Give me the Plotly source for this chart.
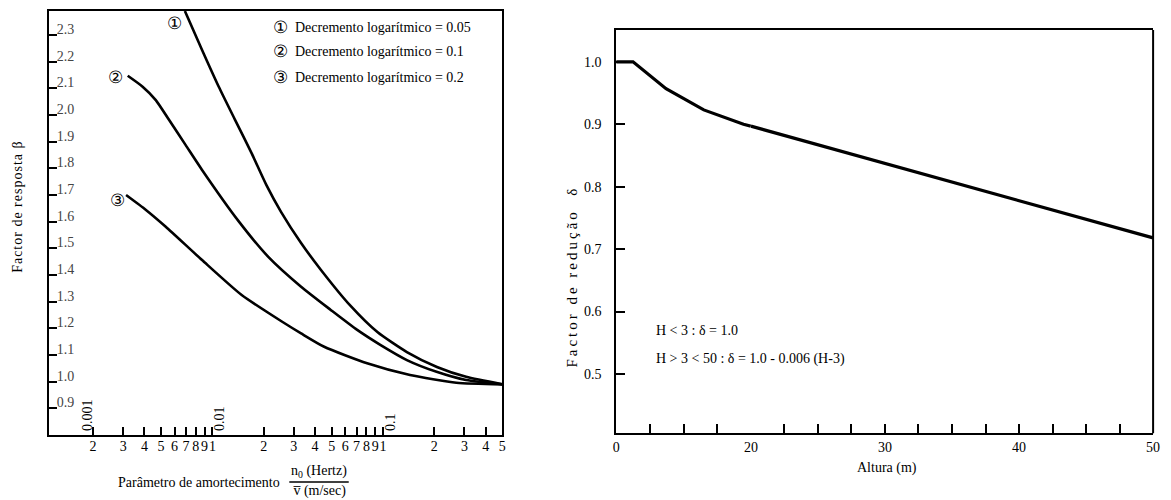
import math
import plotly.graph_objects as go

W, H = 1171, 500
def px(x):
    return x / W
def py(y):
    return 1 - y / H

FONT = "'Liberation Serif', 'Times New Roman', Tinos, 'DejaVu Serif', serif"

# ---------------- Left chart data ----------------
damping_param_1 = [0.0069, 0.0087, 0.0109, 0.0136, 0.0170, 0.0207, 0.0253,
                   0.0331, 0.0433, 0.0646, 0.0927, 0.138, 0.207, 0.307, 0.5]
beta_1 = [2.39, 2.244, 2.106, 1.981, 1.856, 1.738, 1.636,
          1.52, 1.419, 1.284, 1.186, 1.111, 1.055, 1.018, 0.99]

damping_param_2 = [0.00319, 0.0039, 0.00466, 0.00558, 0.00696, 0.0087, 0.0142,
                   0.0212, 0.0331, 0.0494, 0.0706, 0.0964, 0.138, 0.206, 0.307, 0.5]
beta_2 = [2.147, 2.106, 2.056, 1.981, 1.888, 1.794, 1.603,
          1.469, 1.356, 1.269, 1.194, 1.138, 1.081, 1.037, 1.006, 0.99]

damping_param_3 = [0.00312, 0.00408, 0.00533, 0.0087, 0.01485, 0.0265, 0.0331,
                   0.0452, 0.0807, 0.144, 0.269, 0.5]
beta_3 = [1.70, 1.644, 1.581, 1.456, 1.325, 1.219, 1.181,
          1.131, 1.069, 1.025, 0.996, 0.99]

curve_markers = ["①", "②", "③"]
legend_texts = ["Decremento logarítmico = 0.05",
                "Decremento logarítmico = 0.1",
                "Decremento logarítmico = 0.2"]

left_x_tickvals = [0.002, 0.003, 0.004, 0.005, 0.006, 0.007, 0.008, 0.009,
                   0.01, 0.02, 0.03, 0.04, 0.05, 0.06, 0.07, 0.08, 0.09,
                   0.1, 0.2, 0.3, 0.4, 0.5]
left_x_ticktext = ["2", "3", "4", "5", "6", "7", "8", "9",
                   "1", "2", "3", "4", "5", "6", "7", "8", "9",
                   "1", "2", "3", "4", "5"]
decade_labels = ["0.001", "0.01", "0.1"]
decade_label_pos = [0.002, 0.01, 0.1]
left_y_tickvals = [0.8, 0.9, 1.0, 1.1, 1.2, 1.3, 1.4, 1.5, 1.6, 1.7, 1.8, 1.9,
                   2.0, 2.1, 2.2, 2.3]
left_y_ticktext = ["0.8", "0.9", "1.0", "1.1", "1.2", "1.3", "1.4", "1.5", "1.6",
                   "1.7", "1.8", "1.9", "2.0", "2.1", "2.2", "2.3"]

# ---------------- Right chart data ----------------
height_m = [0, 2.5, 7.4, 13.0, 18.9, 20, 50]
reduction = [1.0, 1.0, 0.957, 0.923, 0.900, 0.897, 0.718]

right_y_tickvals = [0.5, 0.6, 0.7, 0.8, 0.9, 1.0]
right_y_ticktext = ["0.5", "0.6", "0.7", "0.8", "0.9", "1.0"]
right_x_low_tickvals = [0, 20]
right_x_low_ticktext = ["0", "20"]
right_x_high_tickvals = [30, 40, 50]
right_x_high_ticktext = ["30", "40", "50"]

fig = go.Figure()

for xs, ys in [(damping_param_1, beta_1), (damping_param_2, beta_2), (damping_param_3, beta_3)]:
    fig.add_trace(go.Scatter(x=xs, y=ys, mode="lines", xaxis="x", yaxis="y",
                             line=dict(color="black", width=2.6, shape="spline", smoothing=0.6),
                             showlegend=False, hoverinfo="skip"))

low = [(h, d) for h, d in zip(height_m, reduction) if h <= 20]
high = [(h, d) for h, d in zip(height_m, reduction) if h >= 20]
fig.add_trace(go.Scatter(x=[p[0] for p in low], y=[p[1] for p in low], mode="lines",
                         xaxis="x2", yaxis="y2", line=dict(color="black", width=3.2),
                         showlegend=False, hoverinfo="skip"))
fig.add_trace(go.Scatter(x=[p[0] for p in high], y=[p[1] for p in high], mode="lines",
                         xaxis="x3", yaxis="y2", line=dict(color="black", width=3.2),
                         showlegend=False, hoverinfo="skip"))

axis_common = dict(showline=True, linecolor="black", linewidth=2, showgrid=False,
                   zeroline=False, ticks="inside", tickcolor="black", tickwidth=2,
                   fixedrange=True, tickangle=0)
minor_common = dict(ticks="inside", ticklen=9, tickwidth=2, tickcolor="black", showgrid=False)

fig.update_layout(
    width=W, height=H, margin=dict(l=0, r=0, t=0, b=0),
    paper_bgcolor="white", plot_bgcolor="white",
    font=dict(family=FONT, color="black", size=13),
    xaxis=dict(domain=[px(45), px(503)], type="log", range=[-2.96, -0.301], anchor="y",
               tickvals=left_x_tickvals, ticktext=left_x_ticktext, ticklen=8, mirror=True,
               ticklabelstandoff=-3,
               tickfont=dict(size=14, family=FONT), **axis_common),
    yaxis=dict(domain=[py(435), py(11)], range=[0.8, 2.39], anchor="x",
               tickvals=left_y_tickvals, ticktext=left_y_ticktext, ticklen=8, mirror=True,
               ticklabelposition="inside", ticklabelshift=-6,
               tickfont=dict(size=14, family=FONT), **axis_common),
    xaxis2=dict(domain=[px(618), px(754)], range=[0, 20], anchor="y2",
                tickvals=right_x_low_tickvals, ticktext=right_x_low_ticktext, ticklen=9,
                minor=dict(tick0=0, dtick=5, **minor_common),
                mirror=True, tickfont=dict(size=14, family=FONT), **axis_common),
    xaxis3=dict(domain=[px(754), px(1160)], range=[20, 50], anchor="y2",
                tickvals=right_x_high_tickvals, ticktext=right_x_high_ticktext, ticklen=9,
                minor=dict(tick0=20, dtick=2.5, **minor_common),
                mirror=True, tickfont=dict(size=14, family=FONT), **axis_common),
    yaxis2=dict(domain=[py(433.3), py(30)], range=[0.405, 1.051], anchor="x2",
                tickvals=right_y_tickvals, ticktext=right_y_ticktext, ticklen=9,
                ticklabelstandoff=10, tickfont=dict(size=14, family=FONT), **axis_common),
)

# right frame border
fig.add_shape(type="line", xref="paper", yref="paper", x0=px(1160), x1=px(1160),
              y0=py(433.3), y1=py(30), line=dict(color="black", width=2))

def note(text, x, y, size=13, xanchor="center", yanchor="middle", **kw):
    return dict(text=text, xref="paper", yref="paper", x=px(x), y=py(y),
                xanchor=xanchor, yanchor=yanchor, showarrow=False,
                font=dict(size=size, family=FONT), **kw)

ann = []
for txt, (x, y) in zip(curve_markers, [(171.7, 23), (113, 77), (115, 200)]):
    ann.append(note(txt, x, y, size=17))
for i, (num, txt) in enumerate(zip(curve_markers, legend_texts)):
    ann.append(note(num, 279, 27 + 25 * i, size=17))
    ann.append(note(txt, 292, 27 + 25 * i, size=14, xanchor="left"))
for txt, pos, sh in zip(decade_labels, decade_label_pos, [-6, 7, 7]):
    ann.append(dict(text=txt, xref="x", yref="paper", x=math.log10(pos), y=py(433),
                    xanchor="center", yanchor="bottom", xshift=sh, textangle=-90,
                    showarrow=False, font=dict(size=14, family=FONT)))
ann.append(note('<span style="letter-spacing:1px">Factor de resposta β</span>', 14, 207,
                size=14, textangle=-90))
ann.append(note("Parâmetro de amortecimento", 281, 482, size=14, xanchor="right"))
ann.append(note("n<sub>0</sub> (Hertz)", 318, 471, size=14))
ann.append(note("v\u0305 (m/sec)", 318, 491, size=14))
ann.append(note('<span style="letter-spacing:3px">Factor de redução  δ</span>', 573, 277,
                size=15, textangle=-90))
ann.append(note("Altura (m)", 891, 468, size=14))
ann.append(note("H < 3 : δ = 1.0", 656, 330, size=14, xanchor="left"))
ann.append(note("H > 3 < 50 : δ = 1.0 - 0.006 (H-3)", 656, 359, size=14, xanchor="left"))
fig.update_layout(annotations=ann)

# fraction bar
fig.add_shape(type="line", xref="paper", yref="paper", x0=px(288), x1=px(348),
              y0=py(482), y1=py(482), line=dict(color="black", width=1.5))

fig.write_html("out.html")
